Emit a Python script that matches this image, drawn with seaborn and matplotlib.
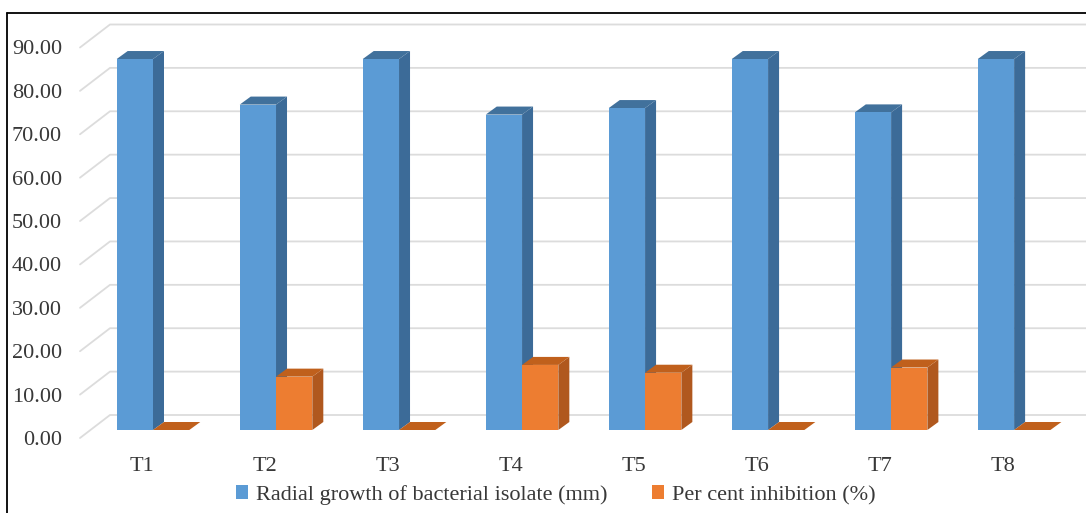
import numpy as np
import pandas as pd
import seaborn as sns
from matplotlib import pyplot as plt
from matplotlib.patches import Polygon
from matplotlib.lines import Line2D
from matplotlib.transforms import IdentityTransform, ScaledTranslation

treatments = ["T1", "T2", "T3", "T4", "T5", "T6", "T7", "T8"]
radial_growth = [85.5, 75.0, 85.5, 72.7, 74.2, 85.5, 73.2, 85.5]
inhibition = [0.0, 12.3, 0.0, 15.0, 13.2, 0.0, 14.4, 0.0]
series_names = ["Radial growth of bacterial isolate (mm)", "Per cent inhibition (%)"]
y_ticks = [0, 10, 20, 30, 40, 50, 60, 70, 80, 90]

df = pd.DataFrame({
    "treatment": treatments * 2,
    "value": radial_growth + inhibition,
    "series": [series_names[0]] * len(treatments) + [series_names[1]] * len(treatments),
})

# front / side / top shades for the fake 3d look
blue = ["#5B9BD5", "#3C6B98", "#41719C"]
orange = ["#ED7D31", "#B0581E", "#C0601C"]
text_col = "#383838"

sns.set_style("white")
plt.rcParams["font.family"] = ["Liberation Serif", "DejaVu Serif"]

W, H = 1086, 513
fig = plt.figure(figsize=(W / 100, H / 100), dpi=100, facecolor="white")
ax = fig.add_axes([80 / W, 75 / H, 976 / W, 390.5 / H])
ax.patch.set_visible(False)

sns.barplot(data=df, x="treatment", y="value", hue="series",
            palette=[blue[0], orange[0]], width=0.59, saturation=1,
            linewidth=0, ax=ax)

handles, labels = ax.get_legend_handles_labels()
ax.get_legend().remove()

ax.set_xlim(-0.504, 7.43)
ax.set_ylim(0, 90)
ax.set_yticks(y_ticks)
ax.set_yticklabels([f"{v:.2f}" for v in y_ticks])
ax.set_xlabel("")
ax.set_ylabel("")
ax.grid(False)
sns.despine(ax=ax, left=True, bottom=True)
ax.tick_params(axis="y", length=0, pad=13, labelsize=16, labelcolor=text_col)
ax.tick_params(axis="x", length=0, pad=14, labelsize=16, labelcolor=text_col)

# bars stand a little behind the front edge of the floor
depth = ScaledTranslation(0.11, 0.08, fig.dpi_scale_trans)
bar_tr = ax.transData + depth
d = np.array([11, 8])
n = len(treatments)
for i, p in enumerate(list(ax.patches)):
    shades = blue if i < n else orange
    z = 2 if i < n else 3
    p.set_transform(bar_tr)
    p.set_zorder(z)
    p.set_clip_on(False)
    x0, w, h = p.get_x(), p.get_width(), p.get_height()
    bl, br, tr, tl = bar_tr.transform([(x0, 0), (x0 + w, 0), (x0 + w, h), (x0, h)])
    side = Polygon([br, tr, tr + d, br + d], closed=True, transform=IdentityTransform(),
                   facecolor=shades[1], edgecolor="none", zorder=z - 0.5, clip_on=False)
    top = Polygon([tl, tr, tr + d, tl + d], closed=True, transform=IdentityTransform(),
                  facecolor=shades[2], edgecolor="none", zorder=z - 0.5, clip_on=False)
    ax.add_artist(side)
    ax.add_artist(top)
    side.set_clip_on(False)
    top.set_clip_on(False)

# gridlines on the back wall, with the diagonals on the side wall
back = np.array([30, 23])
for v in y_ticks:
    front = ax.transData.transform((ax.get_xlim()[0], v))
    pts = np.array([front, front + back, (W, front[1] + back[1])])
    ln = Line2D(pts[:, 0], pts[:, 1], transform=IdentityTransform(),
                color="#DCDCDC", lw=1.3, zorder=0.5)
    ax.add_artist(ln)
    ln.set_clip_on(False)

# picture frame (left and top edges)
fig.add_artist(Line2D([7 / W, 7 / W], [0, 1 - 13 / H], transform=fig.transFigure,
                      color="black", lw=1.3))
fig.add_artist(Line2D([7 / W, 1], [1 - 13 / H, 1 - 13 / H], transform=fig.transFigure,
                      color="black", lw=1.3))

fig.legend(handles, labels, loc="center", bbox_to_anchor=(0.512, 0.035), ncol=2,
           frameon=False, fontsize=16, handlelength=0.55, handleheight=0.55,
           handletextpad=0.35, columnspacing=2.0, labelcolor=text_col)

fig.savefig("out.png", dpi=100)
